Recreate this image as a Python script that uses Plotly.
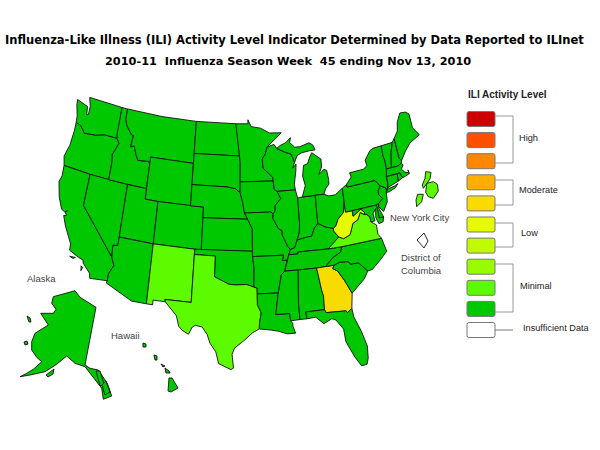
import math
import plotly.graph_objects as go

# ILI level per state, 1 = lowest
LEVEL_COLORS = ["#ffffff", "#00c800", "#5cfb00", "#98fb00", "#c2fb00", "#e6fb00", "#f8dc00", "#ffae00", "#ff8800", "#ff5000", "#cc0000"]
TITLE_1 = "Influenza-Like Illness (ILI) Activity Level Indicator Determined by Data Reported to ILInet"
TITLE_2 = "2010-11  Influenza Season Week  45 ending Nov 13, 2010"

# outlines, lon/lat
WA = [(-124.7,48.4),(-123.2,48.15),(-122.8,48.1),(-122.6,47.3),(-122.35,47.4),(-122.35,48.2),(-122.8,49),(-117.03,49),(-117.04,46.4),(-116.92,46.0),(-118.98,46.0),(-119.3,45.93),(-120.5,45.7),(-121.2,45.65),(-122.3,45.55),(-122.8,45.9),(-123.2,46.15),(-124.0,46.27),(-124.1,46.9),(-124.6,47.9)]
OR = [(-124.0,46.27),(-123.2,46.15),(-122.8,45.9),(-122.3,45.55),(-121.2,45.65),(-120.5,45.7),(-119.3,45.93),(-118.98,46.0),(-116.92,46.0),(-116.46,45.6),(-116.85,44.95),(-117.2,44.4),(-117.03,43.8),(-117.03,42),(-120,42),(-124.2,42),(-124.55,42.85),(-124.1,44),(-123.95,45.5)]
CA = [(-124.2,42),(-120,42),(-120,39),(-114.63,35),(-114.15,34.27),(-114.7,33.4),(-114.72,32.72),(-117.12,32.53),(-117.3,33.0),(-118.4,33.75),(-118.5,34.03),(-119.2,34.15),(-120.6,34.55),(-120.65,35.15),(-121.9,36.6),(-122.5,37.5),(-122.1,37.6),(-122.4,37.85),(-122.1,38.05),(-122.5,37.85),(-123.0,38.0),(-123.75,39.0),(-124.35,40.4),(-124.1,41)]
CHANNEL_WEST = [(-120.4,34.0),(-119.6,34.05),(-119.9,33.9)]
CHANNEL_EAST = [(-118.6,33.45),(-118.35,33.35),(-118.5,33.0)]
NV = [(-120,42),(-117.03,42),(-114.04,42),(-114.04,37),(-114.04,36.2),(-114.75,36.1),(-114.63,35),(-120,39)]
ID = [(-117.03,49),(-116.05,49),(-116.05,48.0),(-115.7,47.45),(-114.7,46.7),(-114.35,46.65),(-114.5,45.55),(-113.95,45.7),(-113.45,44.95),(-113.0,44.45),(-111.5,44.55),(-111.05,44.48),(-111.05,42),(-114.04,42),(-117.03,42),(-117.03,43.8),(-117.2,44.4),(-116.85,44.95),(-116.46,45.6),(-116.92,46.0),(-117.04,46.4)]
MT = [(-116.05,49),(-110,49),(-104.05,49),(-104.05,45.94),(-104.05,45),(-111.05,45),(-111.05,44.48),(-111.5,44.55),(-113.0,44.45),(-113.45,44.95),(-113.95,45.7),(-114.5,45.55),(-114.35,46.65),(-114.7,46.7),(-115.7,47.45),(-116.05,48)]
WY = [(-111.05,45),(-104.05,45),(-104.05,43),(-104.05,41),(-109.05,41),(-111.05,41),(-111.05,42),(-111.05,44.48)]
UT = [(-114.04,42),(-111.05,42),(-111.05,41),(-109.05,41),(-109.05,37),(-114.04,37)]
CO = [(-109.05,41),(-104.05,41),(-102.05,41),(-102.05,40),(-102.05,37),(-103,37),(-109.05,37)]
AZ = [(-114.04,37),(-109.05,37),(-109.05,31.33),(-111.07,31.33),(-114.81,32.5),(-114.72,32.72),(-114.7,33.4),(-114.15,34.27),(-114.63,35),(-114.75,36.1),(-114.04,36.2)]
NM = [(-109.05,37),(-103,37),(-103,36.5),(-103.04,32),(-106.62,32),(-106.53,31.78),(-108.2,31.78),(-108.2,31.33),(-109.05,31.33)]
ND = [(-104.05,49),(-97.23,49),(-96.85,47.6),(-96.56,45.94),(-104.05,45.94)]
SD = [(-104.05,45.94),(-96.56,45.94),(-96.45,45.3),(-96.45,43.5),(-96.45,42.49),(-97.2,42.85),(-98.5,43.0),(-104.05,43),(-104.05,45)]
NE = [(-104.05,43),(-98.5,43),(-97.2,42.85),(-96.45,42.49),(-96.1,41.7),(-95.77,40.58),(-95.3,40),(-102.05,40),(-102.05,41),(-104.05,41)]
KS = [(-102.05,40),(-95.3,40),(-94.62,39.1),(-94.62,37),(-102.05,37)]
OK = [(-103,37),(-94.62,37),(-94.62,36.5),(-94.43,35.4),(-94.48,33.64),(-95.5,33.9),(-97.0,33.85),(-97.95,33.9),(-99.2,34.3),(-100,34.56),(-100,36.5),(-103,36.5)]
TX = [(-103,36.5),(-100,36.5),(-100,34.56),(-99.2,34.3),(-97.95,33.9),(-97,33.85),(-95.5,33.9),(-94.48,33.64),(-94.04,33.55),(-94.04,33.0),(-94.04,32),(-93.55,31.2),(-93.8,30.3),(-93.85,29.7),(-94.75,29.35),(-95.9,28.6),(-97.1,27.9),(-97.4,27.3),(-97.2,26.0),(-97.5,25.85),(-98.3,26.1),(-99.1,26.4),(-99.5,27.5),(-100.3,28.3),(-100.7,29.1),(-101.4,29.77),(-102.3,29.88),(-102.7,29.7),(-103.15,28.98),(-104.0,29.3),(-104.5,29.65),(-104.9,30.6),(-106.53,31.78),(-106.62,32),(-103.04,32)]
MN = [(-97.23,49),(-95.15,49),(-95.15,49.38),(-94.6,48.72),(-93.0,48.55),(-91.5,48.05),(-89.5,48.0),(-92.0,46.72),(-92.3,46.1),(-92.85,45.6),(-92.75,44.75),(-91.25,43.85),(-91.22,43.5),(-96.45,43.5),(-96.45,45.3),(-96.56,45.94),(-96.85,47.6)]
IA = [(-96.45,43.5),(-91.22,43.5),(-91.1,42.7),(-90.65,42.5),(-90.15,41.8),(-91.05,41.2),(-91.1,40.7),(-91.42,40.38),(-91.73,40.61),(-95.77,40.58),(-96.1,41.7),(-96.45,42.49)]
MO = [(-95.77,40.58),(-91.73,40.61),(-91.42,40.38),(-91.5,40.0),(-90.7,39.0),(-90.2,38.8),(-90.2,38.4),(-89.5,37.3),(-89.13,36.98),(-89.4,36.5),(-89.7,36),(-90.37,36),(-90.15,36.5),(-94.62,36.5),(-94.62,37),(-94.62,39.1),(-95.3,40)]
AR = [(-94.62,36.5),(-90.15,36.5),(-90.37,36),(-89.7,36),(-90.1,35),(-90.6,34.7),(-91.15,33.0),(-94.04,33.0),(-94.04,33.55),(-94.48,33.64),(-94.43,35.4)]
LA = [(-94.04,33),(-91.15,33),(-91.6,31.0),(-89.75,31),(-89.65,30.3),(-89.4,30.05),(-89.4,29.8),(-89.1,29.1),(-90.2,29.1),(-91.3,29.4),(-92.3,29.55),(-93.85,29.7),(-93.8,30.3),(-93.55,31.2),(-94.04,32)]
WI = [(-92.0,46.72),(-90.85,46.95),(-90.4,46.55),(-89.1,46.13),(-88.1,45.9),(-87.8,45.35),(-87.6,45.1),(-88.0,44.55),(-87.4,44.9),(-87.5,44.3),(-87.9,43),(-87.8,42.5),(-90.65,42.5),(-91.1,42.7),(-91.22,43.5),(-91.25,43.85),(-92.75,44.75),(-92.85,45.6),(-92.3,46.1)]
IL = [(-90.65,42.5),(-87.8,42.5),(-87.53,41.7),(-87.53,39.35),(-87.65,38.5),(-88.05,37.8),(-88.5,37.1),(-89.13,36.98),(-89.5,37.3),(-90.2,38.4),(-90.2,38.8),(-90.7,39),(-91.5,40),(-91.42,40.38),(-91.1,40.7),(-91.05,41.2),(-90.15,41.8)]
IN = [(-87.53,41.7),(-87.2,41.75),(-84.8,41.76),(-84.82,39.1),(-85.4,38.7),(-85.9,38.0),(-86.8,37.95),(-88.05,37.8),(-87.65,38.5),(-87.53,39.35)]
MI_LOWER = [(-86.8,41.76),(-84.8,41.76),(-83.45,41.73),(-83.1,42.2),(-82.5,42.6),(-82.45,43.0),(-82.6,43.9),(-83.0,44.05),(-83.9,43.65),(-83.35,44.3),(-83.3,45.05),(-84.7,45.78),(-85.1,45.4),(-85.55,44.8),(-86.2,44.7),(-86.5,43.7),(-86.2,42.8)]
MI_UPPER = [(-90.4,46.55),(-89.1,46.13),(-88.1,45.9),(-87.8,45.35),(-87.6,45.1),(-87.1,45.7),(-86.3,45.9),(-85,46),(-84.1,46.0),(-84.4,46.5),(-85,46.75),(-86.5,46.5),(-87.4,46.5),(-88.2,47.0),(-88.0,47.45),(-88.9,47.0),(-89.8,46.8)]
OH = [(-84.8,41.76),(-83.45,41.73),(-82.7,41.5),(-81.7,41.5),(-80.52,41.98),(-80.52,40.64),(-80.85,39.7),(-81.75,39.2),(-82.2,38.6),(-82.6,38.42),(-83.7,38.65),(-84.82,39.1)]
KY = [(-89.4,36.5),(-88.07,36.5),(-88.07,36.68),(-83.68,36.6),(-82.9,37),(-81.97,37.54),(-82.6,38.17),(-82.6,38.42),(-83.7,38.65),(-84.82,39.1),(-85.4,38.7),(-85.9,38),(-86.8,37.95),(-88.05,37.8),(-88.5,37.1),(-89.13,36.98)]
TN = [(-90.1,35),(-89.7,36),(-89.4,36.5),(-88.07,36.5),(-88.07,36.68),(-83.68,36.6),(-81.68,36.59),(-82.0,36.1),(-83.1,35.75),(-84.3,35.0),(-85.6,34.98),(-88.2,35.0)]
MS = [(-90.1,35),(-88.2,35),(-88.47,31.9),(-88.4,30.35),(-89.65,30.3),(-89.75,31),(-91.6,31),(-91.15,33),(-90.6,34.7)]
AL = [(-88.2,35),(-85.6,34.98),(-85.18,32.87),(-85.0,32.3),(-85.05,31),(-87.6,31),(-87.45,30.35),(-88.4,30.35),(-88.47,31.9)]
GA = [(-85.6,34.98),(-84.3,35),(-83.1,35),(-83.35,34.7),(-82.7,34.4),(-81.9,33.4),(-81.1,32.1),(-81.4,30.7),(-82.05,30.36),(-82.2,30.57),(-84.86,30.7),(-85.05,31),(-85,32.3),(-85.18,32.87)]
FL = [(-87.6,31),(-85.05,31),(-84.86,30.7),(-82.2,30.57),(-82.05,30.36),(-81.4,30.7),(-81.3,29.9),(-80.55,28.4),(-80.05,26.9),(-80.15,25.75),(-80.4,25.2),(-81.1,25.15),(-81.8,26.1),(-82.7,27.7),(-82.8,28.9),(-83.7,29.9),(-84.2,30.05),(-85.3,29.7),(-86.3,30.4),(-87.45,30.35)]
SC = [(-83.1,35),(-82.3,35.2),(-81.05,35.1),(-80.8,34.82),(-79.67,34.8),(-78.55,33.86),(-79.2,33.2),(-80.4,32.5),(-81.1,32.1),(-81.9,33.4),(-82.7,34.4),(-83.35,34.7)]
NC = [(-84.3,35),(-83.1,35.75),(-82.0,36.1),(-81.68,36.59),(-75.9,36.55),(-75.5,35.25),(-76.5,34.65),(-77.9,33.9),(-78.55,33.86),(-79.67,34.8),(-80.8,34.82),(-81.05,35.1),(-82.3,35.2),(-83.1,35)]
VA = [(-83.68,36.6),(-81.68,36.59),(-75.9,36.55),(-76.3,37.0),(-76.3,37.9),(-77.0,38.3),(-77.05,38.8),(-77.5,39.1),(-77.83,39.13),(-78.35,39.4),(-78.87,38.77),(-79.65,38.55),(-80.3,37.55),(-81.3,37.3),(-81.97,37.54),(-82.9,37)]
WV = [(-82.6,38.42),(-82.6,38.17),(-81.97,37.54),(-81.3,37.3),(-80.3,37.55),(-79.65,38.55),(-78.87,38.77),(-78.35,39.4),(-77.83,39.13),(-77.72,39.32),(-78.2,39.68),(-79.48,39.2),(-79.48,39.72),(-80.52,39.72),(-80.52,40.64),(-80.85,39.7),(-81.75,39.2),(-82.2,38.6)]
PA = [(-80.52,41.98),(-79.76,42.27),(-79.76,42),(-75.35,42),(-74.7,41.36),(-75.13,40.98),(-75.2,40.65),(-74.72,40.15),(-75.42,39.8),(-75.79,39.72),(-79.48,39.72),(-80.52,39.72),(-80.52,40.64)]
NY = [(-79.76,42.27),(-78.9,42.85),(-79.05,43.27),(-76.8,43.3),(-76.2,43.55),(-76.3,44.1),(-75.3,44.85),(-74.7,45.0),(-73.35,45.01),(-73.4,44),(-73.25,43.55),(-73.27,42.75),(-73.5,42.05),(-73.5,41.3),(-73.65,41.0),(-74.0,40.7),(-73.9,41),(-74.7,41.36),(-75.35,42),(-79.76,42)]
LONG_ISLAND = [(-74.0,40.6),(-73.7,40.88),(-72.6,40.98),(-72.0,41.1),(-72.5,40.8),(-73.5,40.6)]
VT = [(-73.35,45.01),(-71.5,45.01),(-72.05,44.1),(-72.46,42.73),(-73.27,42.75),(-73.25,43.55),(-73.4,44)]
NH = [(-71.5,45.01),(-71.08,45.3),(-70.98,43.4),(-70.7,43.07),(-70.82,42.87),(-71.3,42.7),(-72.46,42.73),(-72.05,44.1)]
ME = [(-71.08,45.3),(-70.3,45.9),(-70,46.7),(-69.23,47.46),(-68.3,47.36),(-67.8,47.07),(-67.8,45.7),(-67.0,44.85),(-68.8,44.4),(-69.8,43.8),(-70.7,43.07),(-70.98,43.4)]
MA = [(-73.5,42.05),(-73.27,42.75),(-72.46,42.73),(-71.3,42.7),(-70.82,42.87),(-70.6,42.65),(-71.0,42.3),(-70.6,41.95),(-70,41.75),(-70.05,42.05),(-69.95,41.67),(-70.65,41.55),(-71.12,41.5),(-71.38,42.02),(-71.8,42.02)]
CT = [(-73.5,42.05),(-71.8,42.02),(-71.85,41.32),(-73.65,41.0),(-73.5,41.3)]
RI = [(-71.8,42.02),(-71.38,42.02),(-71.12,41.5),(-71.85,41.32)]
NJ = [(-74.7,41.36),(-73.9,41),(-74.0,40.45),(-74.1,39.75),(-74.9,38.95),(-75.5,39.5),(-75.42,39.8),(-74.72,40.15),(-75.2,40.65),(-75.13,40.98)]
DE = [(-75.79,39.72),(-75.42,39.8),(-75.55,39.45),(-75.05,38.45),(-75.7,38.46)]
MD = [(-79.48,39.72),(-75.79,39.72),(-75.7,38.46),(-75.05,38.45),(-75.25,38.03),(-75.9,37.95),(-76.2,38.6),(-76.0,39.4),(-76.5,39.0),(-76.4,38.3),(-77.0,38.3),(-77.05,38.8),(-77.5,39.1),(-77.83,39.13),(-77.72,39.32),(-78.2,39.68),(-79.48,39.2)]

STATE_SHAPES = [WA, OR, CA, CHANNEL_WEST, CHANNEL_EAST, NV, ID, MT, WY, UT, CO, AZ, NM, ND, SD, NE, KS, OK, TX, MN, IA, MO, AR, LA, WI, IL, IN, MI_LOWER, MI_UPPER, OH, KY, TN, MS, AL, GA, FL, SC, NC, VA, WV, PA, NY, LONG_ISLAND, VT, NH, ME, MA, CT, RI, NJ, DE, MD]
STATE_LEVELS = [1, 1, 1, 1, 1, 1, 1, 1, 1, 1, 1, 1, 2, 1, 1, 1, 1, 1, 2, 1, 1, 1, 1, 1, 1, 1, 1, 1, 1, 1, 1, 1, 1, 1, 6, 1, 1, 1, 2, 5, 1, 1, 1, 1, 1, 1, 1, 1, 1, 1, 1, 1]

# insets
ALASKA = [(53.3,296.7),(63.3,294),(75,290.7),(80,297.3),(96,307.3),(85,365),(90,368.3),(98.3,370),(107.3,383.3),(111.7,396),(103.3,399.3),(101.7,388.3),(90,373.3),(85,366.7),(75,363.3),(66.7,356),(56.7,364.3),(45,371.7),(30,375),(20,376.7),(26.7,373.3),(33.3,369.3),(41.7,361.7),(36.7,357.3),(31.7,350),(31.7,341.7),(35,333.3),(48.3,325),(40.7,313.3),(53.3,313.3),(56,309.3),(51.7,303.3)]
KODIAK = [(46,375),(50,372),(54,369),(53,374),(48,377)]
NUNIVAK = [(24,342),(27,341),(28,344),(25,345)]
ST_LAWRENCE = [(27,316),(30,318),(31,322),(29,322)]
PANHANDLE_A = [(96,371),(100,371),(104,384),(100,386)]
PANHANDLE_B = [(102,385),(106,381),(110,392),(105,395)]
KAUAI = [(143,343),(146,344),(146,347),(143,347)]
OAHU = [(154,355),(157,356),(157,360),(155,360)]
MOLOKAI = [(161,364),(165,366),(163,367)]
MAUI = [(165,368),(169,371),(170,373),(166,373)]
BIG_ISLAND = [(169,378),(172,378),(178,388),(171,392),(168,391)]
ISLAND_SHAPES = [ALASKA, KODIAK, NUNIVAK, ST_LAWRENCE, PANHANDLE_A, PANHANDLE_B, KAUAI, OAHU, MOLOKAI, MAUI, BIG_ISLAND]

NYC_UPPER = [(425.7,171.7),(431,172.3),(430,179),(426.7,183.3),(423.3,188.3),(422.3,185),(425,178.3)]
NYC_LOWER = [(426.7,183.3),(433.3,181.7),(437.3,184.3),(438.3,191),(433.3,198.3),(428.3,196.7),(425.7,192.3)]
STATEN_ISLAND = [(417.7,194.3),(423.3,194.3),(421.7,201.7),(416.7,206.7),(416,200)]
NYC_SHAPES = [NYC_UPPER, NYC_LOWER, STATEN_ISLAND]
NYC_LEVELS = [2, 2, 2]

DC = [(424,233),(428,241),(424,248),(417,240)]

MAP_SCALE_X = 500
MAP_SCALE_Y = 607
MAP_X0 = 243
MAP_Y0 = 246


def albers(lon, lat):
    # lower 48 conic, standard parallels 29.5 and 45.5, stretched to the picture
    p1, p2, p0 = map(math.radians, (29.5, 45.5, 37.5))
    n = (math.sin(p1) + math.sin(p2)) / 2
    c = math.cos(p1) ** 2 + 2 * n * math.sin(p1)
    r0 = math.sqrt(c - 2 * n * math.sin(p0)) / n
    r = math.sqrt(c - 2 * n * math.sin(math.radians(lat))) / n
    t = n * math.radians(lon + 96)
    return MAP_X0 + MAP_SCALE_X * r * math.sin(t), MAP_Y0 - MAP_SCALE_Y * (r0 - r * math.cos(t))


def add_shape(fig, pts, color, width=0.9):
    xs = [p[0] for p in pts] + [pts[0][0]]
    ys = [p[1] for p in pts] + [pts[0][1]]
    fig.add_trace(go.Scatter(x=xs, y=ys, mode="lines", fill="toself", fillcolor=color,
                             line=dict(color="#111111", width=width), hoverinfo="skip", showlegend=False))


fig = go.Figure()

for shape, level in zip(STATE_SHAPES, STATE_LEVELS):
    add_shape(fig, [albers(*p) for p in shape], LEVEL_COLORS[level])
for shape in ISLAND_SHAPES:
    add_shape(fig, shape, LEVEL_COLORS[1])
for shape, level in zip(NYC_SHAPES, NYC_LEVELS):
    add_shape(fig, shape, LEVEL_COLORS[level])
add_shape(fig, DC, "#ffffff")

# legend swatches, top one is the highest level
for i in range(11):
    yc = 119 + i * 21.1
    x0, x1, y0, y1 = 467, 495, yc - 7.5, yc + 7.5
    path = (f"M {x0+2} {y0} L {x1-2} {y0} Q {x1} {y0} {x1} {y0+2} L {x1} {y1-2} Q {x1} {y1} {x1-2} {y1} "
            f"L {x0+2} {y1} Q {x0} {y1} {x0} {y1-2} L {x0} {y0+2} Q {x0} {y0} {x0+2} {y0} Z")
    fig.add_shape(type="path", path=path, fillcolor=LEVEL_COLORS[10 - i], line=dict(color="#777777", width=1))

# brackets
for top, bottom in [(116, 163), (180, 205), (223, 247), (264, 312)]:
    fig.add_shape(type="path", path=f"M 495 {top} L 513 {top} L 513 {bottom} L 495 {bottom}",
                  line=dict(color="#999999", width=1))
fig.add_shape(type="line", x0=495, x1=513, y0=330, y1=330, line=dict(color="#777777", width=1))

notes = [("High", 528, 138), ("Moderate", 538, 190), ("Low", 529, 233), ("Minimal", 536, 286), ("Insufficient Data", 556, 328)]
for text, x, y in notes:
    fig.add_annotation(x=x, y=y, text=text, showarrow=False, font=dict(family="Liberation Sans", size=9.2, color="#222222"))
fig.add_annotation(x=507, y=94, text="<b>ILI Activity Level</b>", showarrow=False, font=dict(family="Liberation Sans", size=10, color="#222222"))

labels = [("Alaska", 41, 278), ("Hawaii", 125, 335), ("New York City", 419, 217), ("District of", 421, 257), ("Columbia", 421, 270)]
for text, x, y in labels:
    fig.add_annotation(x=x, y=y, text=text, showarrow=False, font=dict(family="Liberation Sans", size=9.5, color="#444444"))

fig.add_annotation(x=294, y=40, text=f"<b>{TITLE_1}</b>", showarrow=False, font=dict(family="DejaVu Sans", size=11.5, color="#000000"))
fig.add_annotation(x=288, y=61, text=f"<b>{TITLE_2}</b>", showarrow=False, font=dict(family="DejaVu Sans", size=11.3, color="#000000"))

fig.update_xaxes(range=[0, 600], visible=False)
fig.update_yaxes(range=[450, 0], visible=False)
fig.update_layout(width=600, height=450, margin=dict(l=0, r=0, t=0, b=0), plot_bgcolor="#ffffff", paper_bgcolor="#ffffff", showlegend=False)
fig.write_html("out.html", config={"displayModeBar": False}, post_script="document.body.style.margin='0'")
